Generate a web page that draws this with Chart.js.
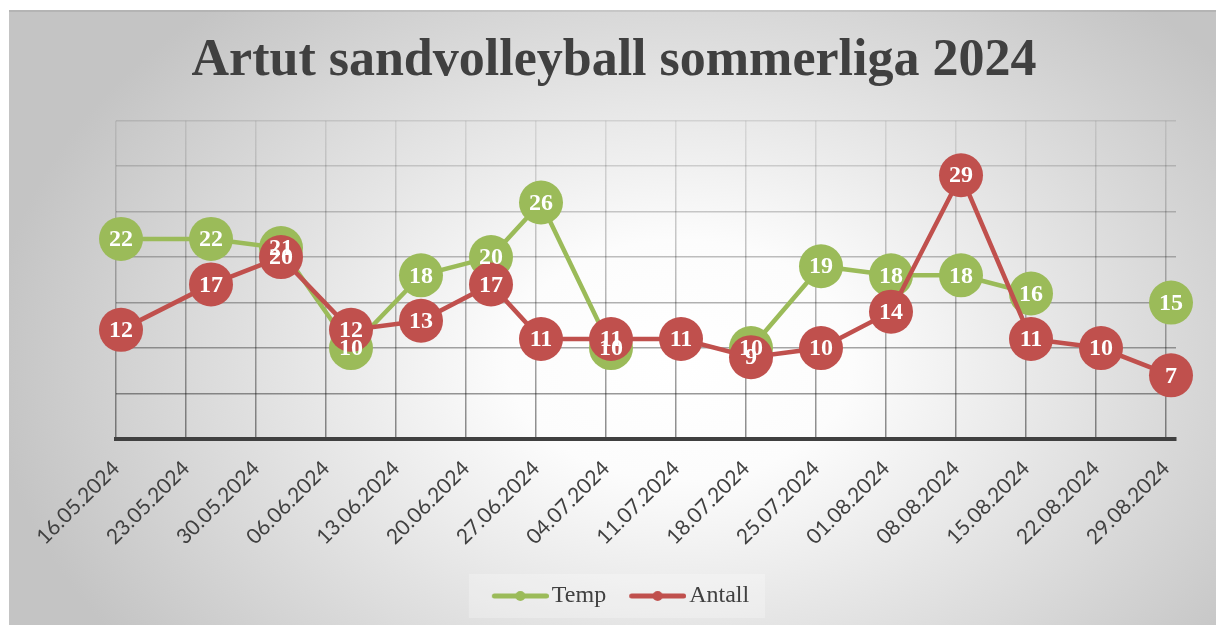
<!DOCTYPE html>
<html>
<head>
<meta charset="utf-8">
<script src="https://cdn.jsdelivr.net/npm/chart.js@4.4.0/dist/chart.umd.min.js"></script>
<style>
  html, body { margin: 0; padding: 0; background: #fff; overflow: hidden; }
  #wrap { position: absolute; left: 9px; top: 10px; width: 1207px; height: 615px; }
</style>
</head>
<body>
<div id="wrap"><canvas id="chart"></canvas></div>
<script>
// Kampdager
const kampDatoer = ['16.05.2024', '25.05.2024', '01.06.2024', '08.06.2024', '15.06.2024', '22.06.2024',
    '27.06.2024', '04.07.2024', '11.07.2024', '18.07.2024', '25.07.2024', '01.08.2024',
    '08.08.2024', '15.08.2024', '22.08.2024', '29.08.2024'];
const temp = [22, 22, 21, 10, 18, 20, 26, 10, null, 10, 19, 18, 18, 16, null, 15];
const antall = [12, 17, 20, 12, 13, 17, 11, 11, 11, 9, 10, 14, 29, 11, 10, 7];

// Datoer på x-aksen (ukentlig)
const akseDatoer = ['16.05.2024', '23.05.2024', '30.05.2024', '06.06.2024', '13.06.2024', '20.06.2024',
    '27.06.2024', '04.07.2024', '11.07.2024', '18.07.2024', '25.07.2024', '01.08.2024',
    '08.08.2024', '15.08.2024', '22.08.2024', '29.08.2024'];

const GRONN = '#9BBB59';
const ROD = '#C0504D';
const TEKST = '#404040';

// antall dager fra første aksedato
function dag(s) {
    const [d, m, y] = s.split('.').map(Number);
    const [d0, m0, y0] = akseDatoer[0].split('.').map(Number);
    return Math.round((Date.UTC(y, m - 1, d) - Date.UTC(y0, m0 - 1, d0)) / 86400000);
}

// punktet ligger midt i dagen, som i Excel
function punkter(verdier) {
    return kampDatoer.map((d, i) => ({ x: dag(d) + 0.5, y: verdier[i] }));
}

function lagMarkor(farge) {
    const c = document.createElement('canvas');
    c.width = 79; c.height = 14;
    const g = c.getContext('2d');
    g.strokeStyle = farge; g.lineWidth = 5; g.lineCap = 'round';
    g.beginPath(); g.moveTo(24.5, 7); g.lineTo(76.5, 7); g.stroke();
    g.fillStyle = farge;
    g.beginPath(); g.arc(50.5, 7, 5, 0, Math.PI * 2); g.fill();
    return c;
}
const markorer = [lagMarkor(GRONN), lagMarkor(ROD)];

const bakgrunn = {
    id: 'bakgrunn',
    beforeDraw(chart) {
        const ctx = chart.ctx;
        const w = chart.width, h = chart.height;
        ctx.save();
        ctx.fillStyle = '#c4c4c4';
        ctx.fillRect(0, 0, w, h);
        // elliptisk gradient, lys i midten
        ctx.save();
        ctx.translate(671, 350);
        ctx.scale(1, 480 / 690);
        const grad = ctx.createRadialGradient(0, 0, 0, 0, 0, 690);
        grad.addColorStop(0, '#ffffff');
        grad.addColorStop(0.25, '#fcfcfc');
        grad.addColorStop(1, '#c4c4c4');
        ctx.fillStyle = grad;
        ctx.fillRect(-700, -800, 1400, 1600);
        ctx.restore();
        ctx.fillStyle = 'rgba(0,0,0,0.08)';
        ctx.fillRect(0, 0, w, 2);

        // lys boks bak forklaringen
        const boxes = chart.legend.legendHitBoxes;
        if (boxes && boxes.length) {
            const first = boxes[0], last = boxes[boxes.length - 1];
            const cy = first.top + first.height / 2;
            ctx.fillStyle = 'rgba(255,255,255,0.25)';
            ctx.fillRect(first.left - 10, cy - 22, last.left + last.width + 16 - (first.left - 10), 44);
        }
        ctx.restore();
    }
};

const etiketter = {
    id: 'etiketter',
    afterDatasetsDraw(chart) {
        const ctx = chart.ctx;
        ctx.save();
        ctx.font = 'bold 24px "Liberation Serif"';
        ctx.fillStyle = '#ffffff';
        ctx.textAlign = 'center';
        ctx.textBaseline = 'middle';
        chart.data.datasets.forEach((ds, i) => {
            const meta = chart.getDatasetMeta(i);
            meta.data.forEach((p, j) => {
                const v = ds.data[j].y;
                if (v === null) return;
                ctx.fillText(String(v), p.x, p.y + 1);
            });
        });
        ctx.restore();
    }
};

function vertikalFarge(c) {
    const a = c.chart.chartArea;
    if (!a) return 'rgba(0,0,0,0.25)';
    const g = c.chart.ctx.createLinearGradient(0, a.top, 0, a.bottom);
    g.addColorStop(0, 'rgba(0,0,0,0.08)');
    g.addColorStop(1, 'rgba(0,0,0,0.45)');
    return g;
}

new Chart(document.getElementById('chart'), {
    type: 'line',
    data: {
        datasets: [
            {
                label: 'Temp',
                data: punkter(temp),
                borderColor: GRONN,
                backgroundColor: GRONN,
                borderWidth: 4.5,
                pointRadius: 22,
                pointHoverRadius: 22,
                pointBorderWidth: 0,
                pointBackgroundColor: GRONN,
                spanGaps: false,
                order: 1,
                clip: false
            },
            {
                label: 'Antall',
                data: punkter(antall),
                borderColor: ROD,
                backgroundColor: ROD,
                borderWidth: 4.5,
                pointRadius: 22,
                pointHoverRadius: 22,
                pointBorderWidth: 0,
                pointBackgroundColor: ROD,
                order: 0,
                clip: false
            }
        ]
    },
    options: {
        responsive: true,
        maintainAspectRatio: false,
        animation: false,
        events: [],
        layout: { padding: { left: 43, right: 40, top: 0, bottom: 7 } },
        scales: {
            x: {
                type: 'linear',
                min: 0,
                max: dag(akseDatoer[akseDatoer.length - 1]) + 1,
                afterBuildTicks: (s) => { s.ticks = akseDatoer.map(d => ({ value: dag(d) })); },
                afterFit: (s) => { s.height = 135; },
                grid: { color: vertikalFarge, lineWidth: 1.5, drawTicks: false },
                border: { display: true, color: '#404040', width: 4 },
                ticks: {
                    autoSkip: false,
                    minRotation: 45,
                    maxRotation: 45,
                    padding: 17,
                    color: TEKST,
                    font: { family: 'Lato', size: 21 },
                    callback: (v) => akseDatoer.find(d => dag(d) === v) || ''
                }
            },
            y: {
                min: 0,
                max: 35,
                afterFit: (s) => { s.width = 64; },
                ticks: { display: false, stepSize: 5 },
                border: { display: false },
                grid: {
                    drawTicks: false,
                    lineWidth: 1.5,
                    color: (c) => 'rgba(0,0,0,' + (0.1 + (35 - c.tick.value) / 35 * 0.35).toFixed(3) + ')'
                }
            }
        },
        plugins: {
            title: {
                display: true,
                text: 'Artut sandvolleyball sommerliga 2024',
                color: TEKST,
                font: { family: 'Liberation Serif', size: 52, weight: 'bold', lineHeight: 1.2 },
                padding: { top: 20.8, bottom: 27.5 }
            },
            legend: {
                position: 'bottom',
                labels: {
                    usePointStyle: true,
                    pointStyleWidth: 61,
                    padding: 10,
                    color: TEKST,
                    font: { family: 'Liberation Serif', size: 24 },
                    sort: (a, b) => a.datasetIndex - b.datasetIndex,
                    generateLabels: (chart) => {
                        const items = Chart.defaults.plugins.legend.labels.generateLabels(chart);
                        items.forEach(it => { it.pointStyle = markorer[it.datasetIndex]; });
                        return items;
                    }
                }
            },
            tooltip: { enabled: false }
        }
    },
    plugins: [bakgrunn, etiketter]
});
</script>
</body>
</html>
